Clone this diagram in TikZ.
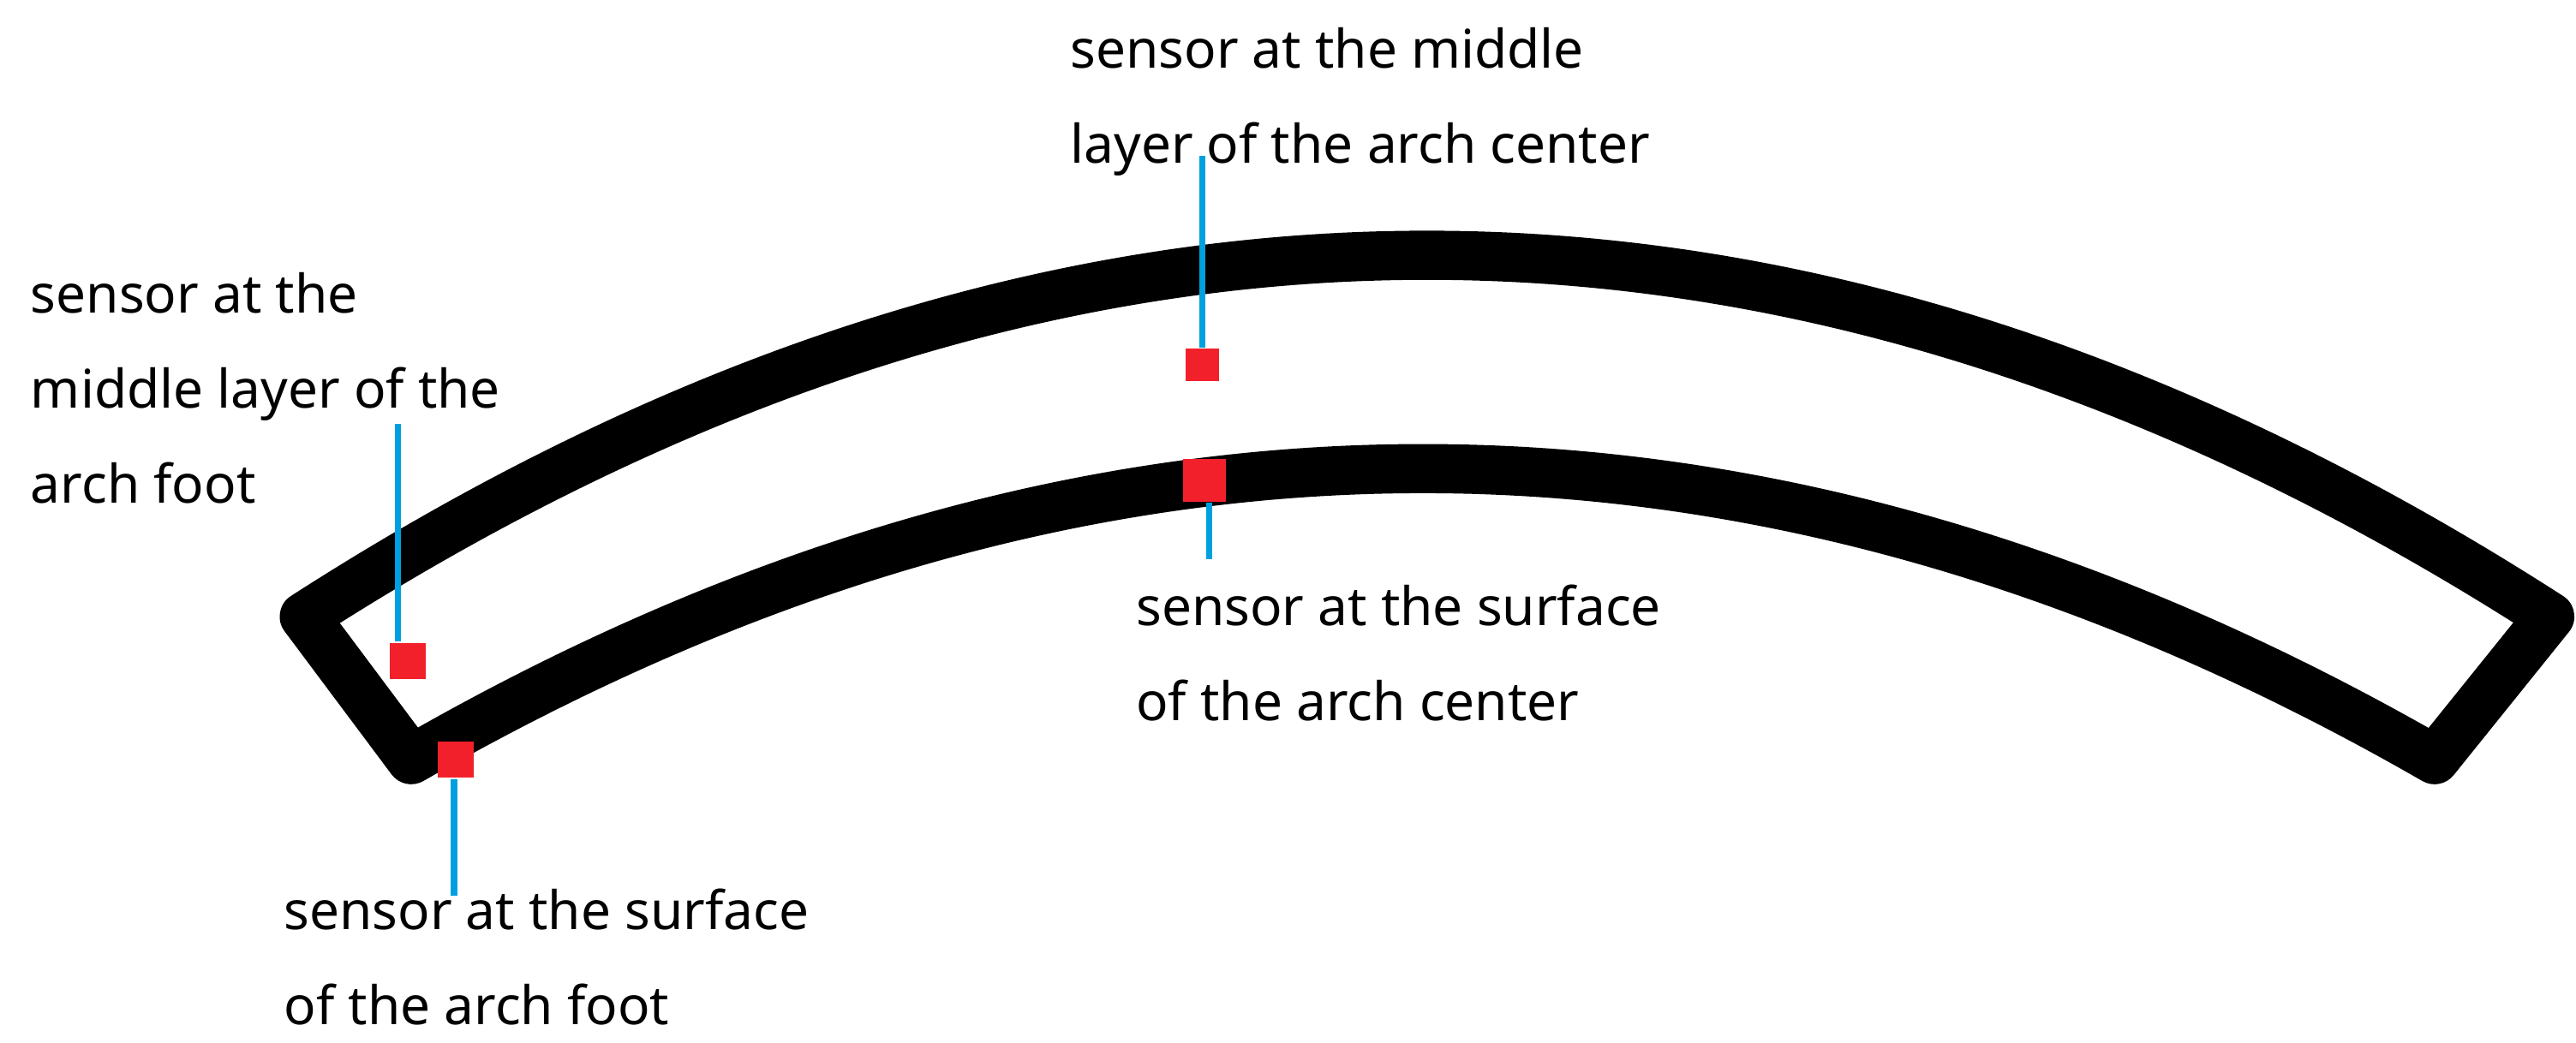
\documentclass[tikz,border=0pt]{standalone}
\usepackage{fontspec}
\setmainfont{Noto Sans}
\begin{document}
\begin{tikzpicture}[x=0.01cm,y=-0.01cm,
  lbl/.style={anchor=west,align=left,inner sep=0pt,font=\fontsize{9.2}{16.5}\selectfont},
  sens/.style={fill=sred,draw=none,minimum size=#1,inner sep=0pt},
  lead/.style={draw=sblue,line width=1.1pt}]
\definecolor{sred}{HTML}{F2202A}
\definecolor{sblue}{HTML}{00A0E0}
\useasboundingbox (0,0) rectangle (1566,634);
\draw[line width=8.5pt,line join=round,line cap=round]
  (185,375) .. controls (640,82) and (1095,82) .. (1550,375)
  -- (1480,462) .. controls (1070,226) and (660,226) .. (250,462) -- cycle;
\node[sens=22*0.01cm] (s1) at (248,402) {};
\node[sens=22*0.01cm] (s2) at (277,462) {};
\node[sens=20*0.01cm] (s3) at (731,222) {};
\node[sens=26*0.01cm] (s4) at (732,292) {};
\node[lbl] (t3) at (650,62) {sensor at the middle\\layer of the arch center};
\node[lbl] (t1) at (18,236) {sensor at the\\middle layer of the\\arch foot};
\node[lbl] (t4) at (690,397) {sensor at the surface\\of the arch center};
\node[lbl] (t2) at (172,582) {sensor at the surface\\of the arch foot};
\coordinate (a1) at (242,258);
\coordinate (a2) at (276,545);
\coordinate (a3) at (731,95);
\coordinate (a4) at (735,340);
\draw[lead] (a1) -- (s1.north -| a1);
\draw[lead] (a2) -- (s2.south -| a2);
\draw[lead] (a3) -- (s3.north);
\draw[lead] (a4) -- (s4.south -| a4);
\end{tikzpicture}
\end{document}
